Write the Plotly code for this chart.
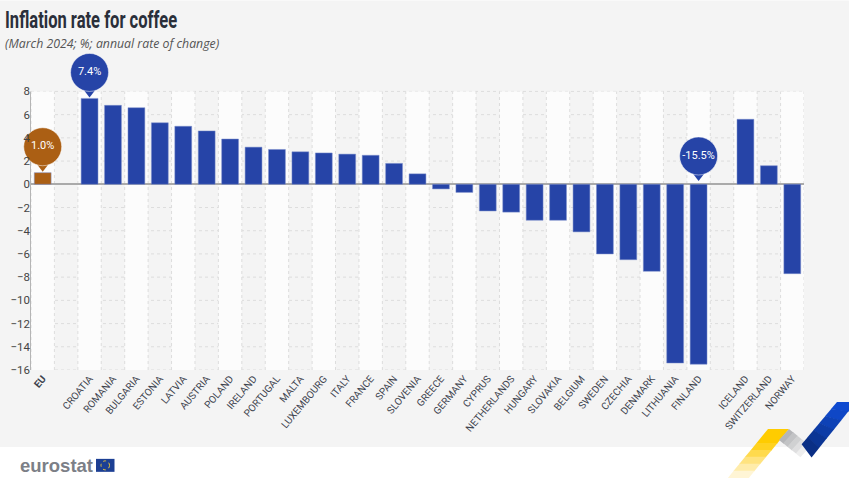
import plotly.graph_objects as go

categories = ["<b>EU</b>", " ", "CROATIA", "ROMANIA", "BULGARIA", "ESTONIA", "LATVIA", "AUSTRIA", "POLAND",
              "IRELAND", "PORTUGAL", "MALTA", "LUXEMBOURG", "ITALY", "FRANCE", "SPAIN", "SLOVENIA", "GREECE",
              "GERMANY", "CYPRUS", "NETHERLANDS", "HUNGARY", "SLOVAKIA", "BELGIUM", "SWEDEN", "CZECHIA",
              "DENMARK", "LITHUANIA", "FINLAND", "  ", "ICELAND", "SWITZERLAND", "NORWAY"]
values = [1.0, None, 7.4, 6.8, 6.6, 5.3, 5.0, 4.6, 3.9, 3.2, 3.0, 2.8, 2.7, 2.6, 2.5, 1.8, 0.9, -0.4, -0.7,
          -2.3, -2.4, -3.1, -3.1, -4.1, -6.0, -6.5, -7.5, -15.4, -15.5, None, 5.6, 1.6, -7.7]
tick_vals = [8, 6, 4, 2, 0, -2, -4, -6, -8, -10, -12, -14, -16]
callout_cats = ["<b>EU</b>", "CROATIA", "FINLAND"]
callout_base = [1.0, 7.4, 0.2]
callout_text = ["1.0%", "7.4%", "-15.5%"]

BLUE, BROWN, BG = "#2644a7", "#ab5f14", "#f4f4f4"
callout_colors = [BROWN, BLUE, BLUE]
FONT = "Roboto, sans-serif"
GRID = "#dddddd"
W, H = 849, 478
Y_LOW, Y_GRID_TOP, Y_HIGH = -16, 8, 12  # the axis runs above the grid so the top callout has room
UNIT_PX = 279 / (Y_GRID_TOP - Y_LOW)
L, R, B = 31, 45, 108
T = 91 - (Y_HIGH - Y_GRID_TOP) * UNIT_PX
pxx = lambda v: (v - L) / (W - L - R)
pyy = lambda v: 1 - (v - T) / (H - T - B)


def poly(points, color, layer="above"):
    path = "M" + "L".join(f"{pxx(x):.5f},{pyy(y):.5f}" for x, y in points) + "Z"
    return dict(type="path", xref="paper", yref="paper", path=path, fillcolor=color, line_width=0, layer=layer)


shapes = [poly([(0, 0), (W, 0), (W, 447), (0, 447)], BG, "below")]

for i in range(len(categories)):
    if i % 2 == 0:
        shapes.append(dict(type="rect", xref="x", yref="y", x0=i - 0.5, x1=i + 0.5, y0=Y_LOW, y1=Y_GRID_TOP,
                           fillcolor="#fcfcfc", line_width=0, layer="below"))
for i in range(len(categories) + 1):
    shapes.append(dict(type="line", xref="x", yref="y", x0=i - 0.5, x1=i - 0.5, y0=Y_LOW, y1=Y_GRID_TOP,
                       line=dict(color=GRID, width=1, dash="dot"), layer="below"))
for t in tick_vals:
    if t != 0:
        shapes.append(dict(type="line", xref="paper", yref="y", x0=0, x1=1, y0=t, y1=t,
                           line=dict(color=GRID, width=1, dash="dot"), layer="below"))
shapes.append(dict(type="line", xref="paper", yref="y", x0=0, x1=0, y0=Y_LOW, y1=Y_GRID_TOP,
                   line=dict(color="#b5b5b5", width=2), layer="below"))

# yellow ribbon, fading to white downward
yellow = ["#ffcc00", "#ffcc00", "#ffd21f", "#ffda4d", "#ffe37f", "#ffecaa", "#fff5d5"]
top_y, bot_y = 429, 478
n = len(yellow)
for k, c in enumerate(yellow):
    y0 = top_y + (bot_y - top_y) * k / n
    y1 = top_y + (bot_y - top_y) * (k + 1) / n + 0.5
    xl0 = 768 - (y0 - top_y) * 40 / 49
    xl1 = 768 - (y1 - top_y) * 40 / 49
    shapes.append(poly([(xl0, y0), (xl0 + 21, y0), (xl1 + 21, y1), (xl1, y1)], c))

# grey ribbon
grey = ["#b4b5b8", "#c2c3c5", "#d0d1d2", "#dfdfe0", "#eeeeee"]
for k, c in enumerate(grey):
    a, b = k / 5, (k + 1) / 5
    p = lambda t, s: (779 + 21 * t + 10 * s, 440 + 17 * t - 11 * s)
    shapes.append(poly([p(a, 0), p(a, 1), p(b + 0.02, 1), p(b + 0.02, 0)], c))

# blue ribbon
blues = ["#0f4ad0", "#0f47c6", "#0e42b6", "#0d3ca6", "#0b3594", "#0a2f85"]
for k, c in enumerate(blues):
    a, b = k / 6, (k + 1) / 6 + 0.01
    left = lambda t: (837 - 35 * t, 402 + 42 * t)
    right = lambda t: (856 - 44 * t, 402 + 55 * t)
    shapes.append(poly([left(a), right(a), right(b), left(b)], c))

# eu flag in the logo
shapes.append(poly([(96, 459), (114.5, 459), (114.5, 472), (96, 472)], "#1c3f94"))
shapes.append(dict(type="circle", xref="paper", yref="paper", x0=pxx(101), x1=pxx(109.5), y0=pyy(470), y1=pyy(461),
                   line=dict(color="#e9c53a", width=1, dash="dot"), fillcolor="rgba(0,0,0,0)"))

annotations = [
    dict(x=pxx(2.5), y=pyy(20), xref="paper", yref="paper", xanchor="left", yanchor="middle", showarrow=False,
         text="<b>Inflation rate for coffee</b>", font=dict(family=FONT, size=23, color="#2a2f3a")),
    dict(x=pxx(2.5), y=pyy(43), xref="paper", yref="paper", xanchor="left", yanchor="middle", showarrow=False,
         text="<i>(March 2024; %; annual rate of change)</i>",
         font=dict(family="Open Sans, sans-serif", size=12.3, color="#555555")),
    dict(x=pxx(18), y=pyy(466), xref="paper", yref="paper", xanchor="left", yanchor="middle", showarrow=False,
         text="<b>eurostat</b>", font=dict(family="Liberation Sans, sans-serif", size=18.5, color="#7c7f87")),
]

bar_colors = [BROWN if c == "<b>EU</b>" else BLUE for c in categories]
fig = go.Figure()
fig.add_bar(x=categories, y=values, marker=dict(color=bar_colors, line=dict(color="#7f90cc", width=0.5)), width=0.72)
fig.add_scatter(x=callout_cats, y=[v + 8 / UNIT_PX for v in callout_base], mode="markers", cliponaxis=False,
                marker=dict(symbol="triangle-down", size=14, color=callout_colors, line_width=0), hoverinfo="skip")
fig.add_scatter(x=callout_cats, y=[v + 26 / UNIT_PX for v in callout_base], mode="markers+text", cliponaxis=False,
                marker=dict(symbol="circle", size=38, color=callout_colors, line=dict(color="#ffffff", width=0.5)),
                text=callout_text, textposition="middle center",
                textfont=dict(family=FONT, size=11, color="#ffffff"), hoverinfo="skip")
fig.update_layout(
    width=W, height=H, margin=dict(l=L, r=R, t=T, b=B, pad=0), paper_bgcolor="#ffffff", plot_bgcolor="rgba(0,0,0,0)",
    showlegend=False, shapes=shapes, annotations=annotations,
    font=dict(family=FONT, color="#444444"),
)
fig.update_xaxes(type="category", categoryorder="array", categoryarray=categories, tickmode="array",
                 tickvals=categories, ticktext=categories, tickangle=-50, range=[-0.5, len(categories) - 0.5],
                 showgrid=False, zeroline=False, ticks="", tickfont=dict(size=10, color="#3d434e"), automargin=False)
fig.update_yaxes(range=[Y_LOW, Y_HIGH], tickvals=tick_vals, showgrid=False,
                 zeroline=True, zerolinecolor="#aaaaaa", zerolinewidth=1.5, showline=False,
                 tickfont=dict(size=11.5, color="#444444"), ticks="", automargin=False)
# page margin off; the title is squeezed to the reference's condensed width
post = """
document.body.style.margin = '0';
var t = document.querySelector('.annotation-text');
if (t) { var x = t.getBBox().x;
  t.setAttribute('transform', 'translate(' + x + ',0) scale(0.72,1) translate(' + (-x) + ',0)'); }
"""
fig.write_html("out.html", post_script=post, config=dict(displayModeBar=False))
